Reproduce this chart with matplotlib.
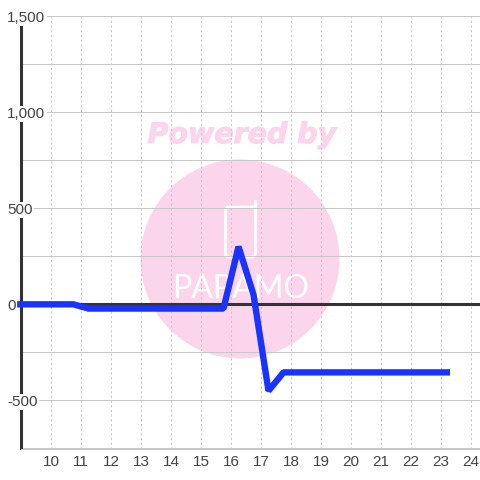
import matplotlib
matplotlib.use("Agg")
import matplotlib.pyplot as plt
import matplotlib.patheffects as pe
from matplotlib.patches import Ellipse, FancyBboxPatch

hours = [8.87, 10.75, 11.25, 15.75, 16.25, 16.75, 17.25, 17.75, 23.3]
values = [0, 0, -22, -22, 300, 50, -450, -354, -354]
x_ticks = list(range(10, 25))
y_ticks = [-750, -500, -250, 0, 250, 500, 750, 1000, 1250, 1500]
y_labels = {-500: "-500", 0: "0", 500: "500", 1000: "1,000", 1500: "1,500"}

W = 480
fig = plt.figure(figsize=(4.8, 4.8), dpi=100, facecolor="white")
ax = fig.add_axes([20.5 / W, 1 - 448.5 / W, 459.5 / W, 432.5 / W])
ax.set_xlim(8.983, 24.3)
ax.set_ylim(-750, 1500)
ax.patch.set_alpha(0)

# watermark in pixel space
bg = fig.add_axes([0, 0, 1, 1], zorder=-1)
bg.set_xlim(0, W); bg.set_ylim(W, 0); bg.axis("off")
pink = "#fbd5ec"
bg.add_patch(Ellipse((240, 259), 199, 199, color=pink, lw=0))
bg.text(242, 135, "Powered by", color=pink, fontsize=20.5, fontweight="bold",
        fontstyle="italic", family="DejaVu Sans", ha="center", va="center",
        path_effects=[pe.withStroke(linewidth=0.8, foreground=pink)])
bg.add_patch(FancyBboxPatch((225.5, 207), 30, 50, boxstyle="round,pad=0,rounding_size=4",
                            fc="none", ec="white", lw=2))
bg.plot([254.5, 254.5], [201, 212], color="white", lw=2.4, solid_capstyle="round")
bg.text(241, 289, "PAPAMO", color="white", fontsize=23,
        family="Lato", ha="center", va="center")

ax.set_xticks(x_ticks)
ax.set_yticks(y_ticks)
ax.grid(True, axis="y", color="#c8c8c8", lw=0.75)
ax.grid(True, axis="x", color="#c8c8c8", lw=0.75, ls=(0, (2, 2.5)))
ax.set_axisbelow(True)
for s in ("top", "right"):
    ax.spines[s].set_visible(False)
ax.spines["left"].set_color("#333333")
ax.spines["left"].set_linewidth(2.2)
ax.spines["bottom"].set_color("#c8c8c8")
ax.spines["bottom"].set_linewidth(0.75)
ax.axhline(0, color="#333333", lw=2.2, zorder=2)
ax.plot(hours, values, color="#1a33ff", lw=4.6, zorder=3, clip_on=False,
        solid_joinstyle="bevel", solid_capstyle="butt")

ax.tick_params(axis="x", length=0, pad=5, labelsize=11, labelcolor="#444444")
ax.tick_params(axis="y", length=0, labelleft=False)
for v, t in y_labels.items():
    fig.text(7 / W, 1 - (304.5 - v * 0.192) / W, t, fontsize=11, color="#444444", ha="left",
             va="center_baseline", family="Liberation Sans", zorder=6,
             bbox=dict(fc="white", ec="none", pad=1.0))
for lab in ax.get_xticklabels():
    lab.set_family("Liberation Sans")
fig.savefig("out.png", dpi=100)
